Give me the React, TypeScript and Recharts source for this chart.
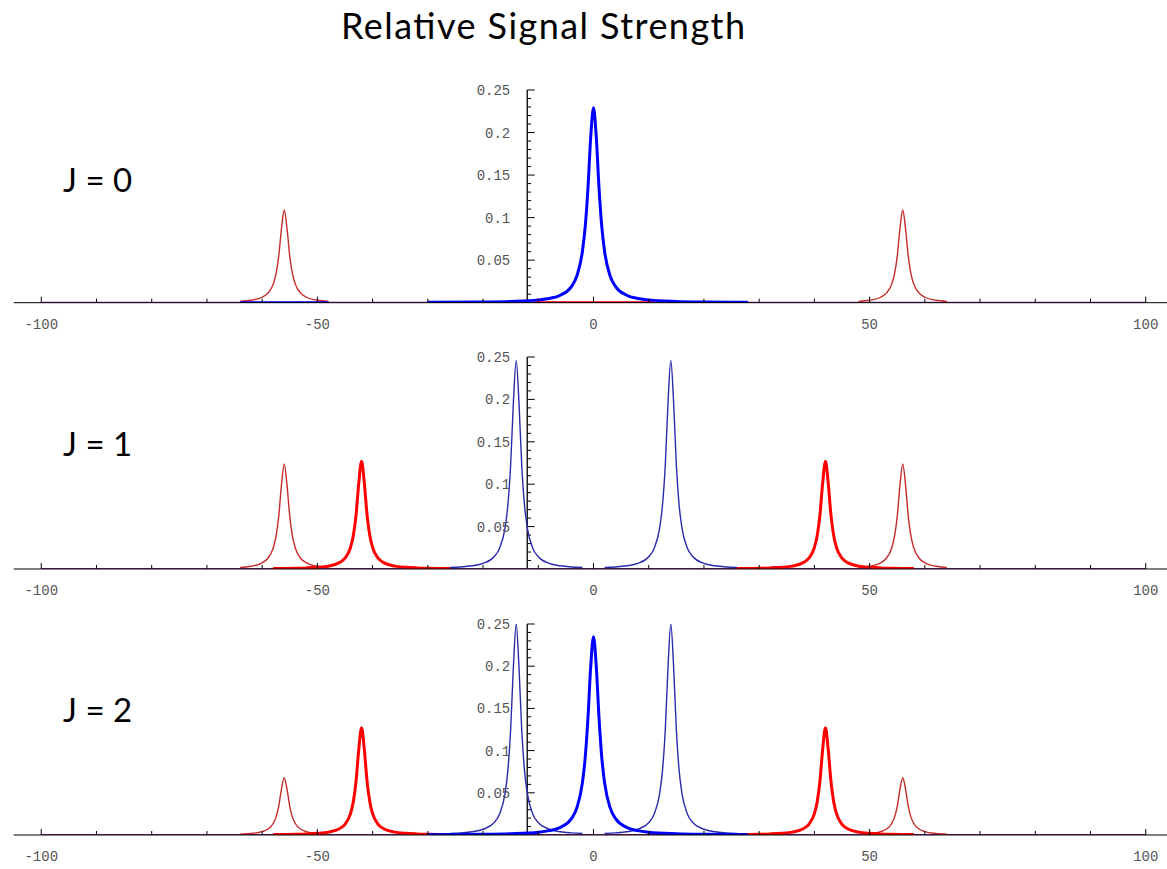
import React from 'react';
import { LineChart, Line, XAxis, YAxis, ReferenceLine } from 'recharts';

// ---------- data ----------
const X_TICKS = [-100, -90, -80, -70, -60, -50, -40, -30, -20, -10, 0, 10, 20, 30, 40, 50, 60, 70, 80, 90, 100];
const Y_MAJOR = [0.05, 0.1, 0.15, 0.2, 0.25];
const Y_LABELS = ['0.05', '0.1', '0.15', '0.2', '0.25'];
const Y_MINOR = [0.01, 0.02, 0.03, 0.04, 0.06, 0.07, 0.08, 0.09, 0.11, 0.12, 0.13, 0.14, 0.16, 0.17, 0.18, 0.19, 0.21, 0.22, 0.23, 0.24];
const PANEL_LABELS = ['J = 0', 'J = 1', 'J = 2'];
const TITLE = 'Relative Signal Strength';

const BASE_X = [-100, 100];
const BASE_Y = [0, 0];

const RED_THIN_L_X = [-64, -62, -60, -59, -58, -57.5, -57, -56.5, -56, -55.5, -55, -54.5, -54, -53, -52, -50, -48];
const RED_THIN_R_X = [48, 50, 52, 53, 54, 54.5, 55, 55.5, 56, 56.5, 57, 57.5, 58, 59, 60, 62, 64];
const RED_THICK_L_X = [-58, -54, -52, -50, -48, -46, -45, -44, -43.5, -43, -42.5, -42, -41.5, -41, -40.5, -40, -39, -38, -36, -34, -32, -30, -26];
const RED_THICK_R_X = [26, 30, 32, 34, 36, 38, 39, 40, 40.5, 41, 41.5, 42, 42.5, 43, 43.5, 44, 45, 46, 48, 50, 52, 54, 58];
const BLUE_THIN_L_X = [-26, -24, -22, -20, -18, -17, -16, -15.5, -15, -14.5, -14, -13.5, -13, -12.5, -12, -11, -10, -8, -6, -4, -2];
const BLUE_THIN_R_X = [2, 4, 6, 8, 10, 11, 12, 12.5, 13, 13.5, 14, 14.5, 15, 15.5, 16, 17, 18, 20, 22, 24, 26];
const BLUE_THICK_X = [-30, -20, -15, -10, -8, -6, -4, -3, -2, -1.5, -1, -0.5, 0, 0.5, 1, 1.5, 2, 3, 4, 6, 8, 10, 15, 20, 28];

// J = 0
const J0_RED_THIN_Y = [0.0016, 0.0029, 0.0064, 0.0109, 0.0218, 0.0336, 0.0545, 0.0872, 0.109, 0.0872, 0.0545, 0.0336, 0.0218, 0.0109, 0.0064, 0.0029, 0.0016];
const J0_BLUE_THICK_Y = [0.0004, 0.0008, 0.0015, 0.0033, 0.005, 0.0088, 0.0189, 0.0316, 0.0607, 0.0893, 0.135, 0.195, 0.229, 0.195, 0.135, 0.0893, 0.0607, 0.0316, 0.0189, 0.0088, 0.005, 0.0033, 0.0015, 0.0008, 0.0004];
const J0_RED_FLAT_X = [-11, 11];
const J0_BLUE_FLAT_X = [-64, -48];
const FLAT_Y = [0, 0];

// J = 1
const J1_RED_THIN_Y = [0.0019, 0.0033, 0.0073, 0.0124, 0.0248, 0.0382, 0.062, 0.0992, 0.124, 0.0992, 0.062, 0.0382, 0.0248, 0.0124, 0.0073, 0.0033, 0.0019];
const J1_RED_THICK_Y = [0.0005, 0.0009, 0.0013, 0.002, 0.0034, 0.0075, 0.0127, 0.0254, 0.0391, 0.0635, 0.1016, 0.127, 0.1016, 0.0635, 0.0391, 0.0254, 0.0127, 0.0075, 0.0034, 0.002, 0.0013, 0.0009, 0.0005];
const J1_BLUE_THIN_Y = [0.0017, 0.0024, 0.0038, 0.0066, 0.0145, 0.0246, 0.0492, 0.0757, 0.123, 0.197, 0.246, 0.197, 0.123, 0.0757, 0.0492, 0.0246, 0.0145, 0.0066, 0.0038, 0.0024, 0.0017];

// J = 2
const J2_RED_THIN_Y = [0.001, 0.0018, 0.004, 0.0068, 0.0136, 0.0209, 0.034, 0.0544, 0.068, 0.0544, 0.034, 0.0209, 0.0136, 0.0068, 0.004, 0.0018, 0.001];
const J2_RED_THICK_Y = [0.0005, 0.0009, 0.0013, 0.002, 0.0034, 0.0075, 0.0127, 0.0254, 0.0391, 0.0635, 0.1016, 0.127, 0.1016, 0.0635, 0.0391, 0.0254, 0.0127, 0.0075, 0.0034, 0.002, 0.0013, 0.0009, 0.0005];
const J2_BLUE_THIN_Y = [0.0017, 0.0025, 0.0038, 0.0068, 0.0147, 0.025, 0.05, 0.0769, 0.125, 0.2, 0.25, 0.2, 0.125, 0.0769, 0.05, 0.025, 0.0147, 0.0068, 0.0038, 0.0025, 0.0017];
const J2_BLUE_THICK_Y = [0.0004, 0.0008, 0.0015, 0.0033, 0.0052, 0.009, 0.0194, 0.0324, 0.0623, 0.0917, 0.139, 0.2, 0.235, 0.2, 0.139, 0.0917, 0.0623, 0.0324, 0.0194, 0.009, 0.0052, 0.0033, 0.0015, 0.0008, 0.0004];

// ---------- styles ----------
const PURPLE = '#8a1f96';
const RED_THIN = '#c62a2a';
const RED_THICK = '#ff0000';
const BLUE_THIN = '#2a2aac';
const BLUE_THICK = '#0000ff';

type S = { xs: number[]; ys: number[]; color: string; w: number };

const zip = (xs: number[], ys: number[]) => xs.map((x, i) => ({ x, y: ys[i] }));

const base: S = { xs: BASE_X, ys: BASE_Y, color: PURPLE, w: 2 };

const PANELS: { plotTop: number; plotBottom: number; series: S[] }[] = [
  {
    plotTop: 90,
    plotBottom: 302.7,
    series: [
      base,
      { xs: RED_THIN_L_X, ys: J0_RED_THIN_Y, color: RED_THIN, w: 1.4 },
      { xs: RED_THIN_R_X, ys: J0_RED_THIN_Y, color: RED_THIN, w: 1.4 },
      { xs: J0_RED_FLAT_X, ys: FLAT_Y, color: RED_THICK, w: 3 },
      { xs: J0_BLUE_FLAT_X, ys: FLAT_Y, color: BLUE_THICK, w: 3 },
      { xs: BLUE_THICK_X, ys: J0_BLUE_THICK_Y, color: BLUE_THICK, w: 3 },
    ],
  },
  {
    plotTop: 357,
    plotBottom: 569,
    series: [
      base,
      { xs: RED_THIN_L_X, ys: J1_RED_THIN_Y, color: RED_THIN, w: 1.4 },
      { xs: RED_THIN_R_X, ys: J1_RED_THIN_Y, color: RED_THIN, w: 1.4 },
      { xs: RED_THICK_L_X, ys: J1_RED_THICK_Y, color: RED_THICK, w: 3 },
      { xs: RED_THICK_R_X, ys: J1_RED_THICK_Y, color: RED_THICK, w: 3 },
      { xs: BLUE_THIN_L_X, ys: J1_BLUE_THIN_Y, color: BLUE_THIN, w: 1.4 },
      { xs: BLUE_THIN_R_X, ys: J1_BLUE_THIN_Y, color: BLUE_THIN, w: 1.4 },
    ],
  },
  {
    plotTop: 624,
    plotBottom: 835,
    series: [
      base,
      { xs: RED_THIN_L_X, ys: J2_RED_THIN_Y, color: RED_THIN, w: 1.4 },
      { xs: RED_THIN_R_X, ys: J2_RED_THIN_Y, color: RED_THIN, w: 1.4 },
      { xs: RED_THICK_L_X, ys: J2_RED_THICK_Y, color: RED_THICK, w: 3 },
      { xs: RED_THICK_R_X, ys: J2_RED_THICK_Y, color: RED_THICK, w: 3 },
      { xs: BLUE_THIN_L_X, ys: J2_BLUE_THIN_Y, color: BLUE_THIN, w: 1.4 },
      { xs: BLUE_THIN_R_X, ys: J2_BLUE_THIN_Y, color: BLUE_THIN, w: 1.4 },
      { xs: BLUE_THICK_X, ys: J2_BLUE_THICK_Y, color: BLUE_THICK, w: 3 },
    ],
  },
];

const X_MIN = -105;
const X_MAX = 105;
const PX_PER_UNIT = 5.5225;
const ZERO_PX = 593.5;
const PLOT_LEFT = ZERO_PX + X_MIN * PX_PER_UNIT;
const PLOT_W = (X_MAX - X_MIN) * PX_PER_UNIT;
const Y_AXIS_X = -12;
const MONO = '"Liberation Mono", "DejaVu Sans Mono", monospace';

const XTick = (props: any) => {
  const { x, y, payload } = props;
  const v = payload.value as number;
  const major = v % 50 === 0;
  return (
    <g>
      <line x1={x} x2={x} y1={y} y2={y - (major ? 6 : 4)} stroke="#000" strokeWidth={1} />
      {major && (
        <text x={x} y={y + 22} textAnchor="middle" dominantBaseline="central" fill="#555" fontSize={14} fontFamily={MONO}>
          {String(v)}
        </text>
      )}
    </g>
  );
};

function Panel({ plotTop, plotBottom, series }: { plotTop: number; plotBottom: number; series: S[] }) {
  const TOPM = 10;
  const AXH = 36;
  const plotH = plotBottom - plotTop;
  return (
    <div style={{ position: 'absolute', left: 0, top: plotTop - TOPM }}>
      <LineChart
        width={PLOT_LEFT + PLOT_W}
        height={TOPM + plotH + AXH}
        margin={{ top: TOPM, right: 0, bottom: 0, left: PLOT_LEFT }}
      >
        <XAxis
          type="number"
          dataKey="x"
          domain={[X_MIN, X_MAX]}
          ticks={X_TICKS}
          interval={0}
          allowDataOverflow
          axisLine={{ stroke: '#000', strokeWidth: 1 }}
          tickLine={false}
          tickSize={0}
          tickMargin={0}
          height={AXH}
          tick={(p: any) => <XTick {...p} />}
        />
        <YAxis type="number" domain={[0, 0.25]} hide allowDataOverflow />
        <ReferenceLine
          segment={[{ x: Y_AXIS_X, y: 0 }, { x: Y_AXIS_X, y: 0.25 }]}
          stroke="#000"
          strokeWidth={1.3}
          ifOverflow="visible"
        />
        {Y_MINOR.map((v) => (
          <ReferenceLine
            key={'m' + v}
            segment={[{ x: Y_AXIS_X, y: v }, { x: Y_AXIS_X + 0.7, y: v }]}
            stroke="#000"
            strokeWidth={1}
            ifOverflow="visible"
          />
        ))}
        {Y_MAJOR.map((v, i) => (
          <ReferenceLine
            key={'M' + v}
            segment={[{ x: Y_AXIS_X, y: v }, { x: Y_AXIS_X + 1.35, y: v }]}
            stroke="#000"
            strokeWidth={1}
            ifOverflow="visible"
            label={{ value: Y_LABELS[i], position: 'left', offset: 17, fill: '#555', fontSize: 14, fontFamily: MONO }}
          />
        ))}
        {series.map((s, i) => (
          <Line
            key={i}
            data={zip(s.xs, s.ys)}
            dataKey="y"
            type="monotone"
            stroke={s.color}
            strokeWidth={s.w}
            dot={false}
            activeDot={false}
            isAnimationActive={false}
          />
        ))}
      </LineChart>
    </div>
  );
}

const LABEL_BASELINES = [192, 456, 722];

export default function App() {
  return (
    <div style={{ position: 'absolute', left: 0, top: 0, width: 1167, height: 869, overflow: 'hidden', background: '#fff' }}>
      {PANELS.map((p, i) => (
        <Panel key={i} plotTop={p.plotTop} plotBottom={p.plotBottom} series={p.series} />
      ))}
      <svg width={1167} height={869} style={{ position: 'absolute', left: 0, top: 0, pointerEvents: 'none' }}>
        <text x={341} y={39} fontFamily="Lato, 'Open Sans', sans-serif" fontSize={36} fill="#000" textLength={404} lengthAdjust="spacing">
          {TITLE}
        </text>
        {PANEL_LABELS.map((t, i) => (
          <text key={t} x={63} y={LABEL_BASELINES[i]} fontFamily="Lato, 'Open Sans', sans-serif" fontSize={33} fill="#000">
            {t}
          </text>
        ))}
      </svg>
    </div>
  );
}
